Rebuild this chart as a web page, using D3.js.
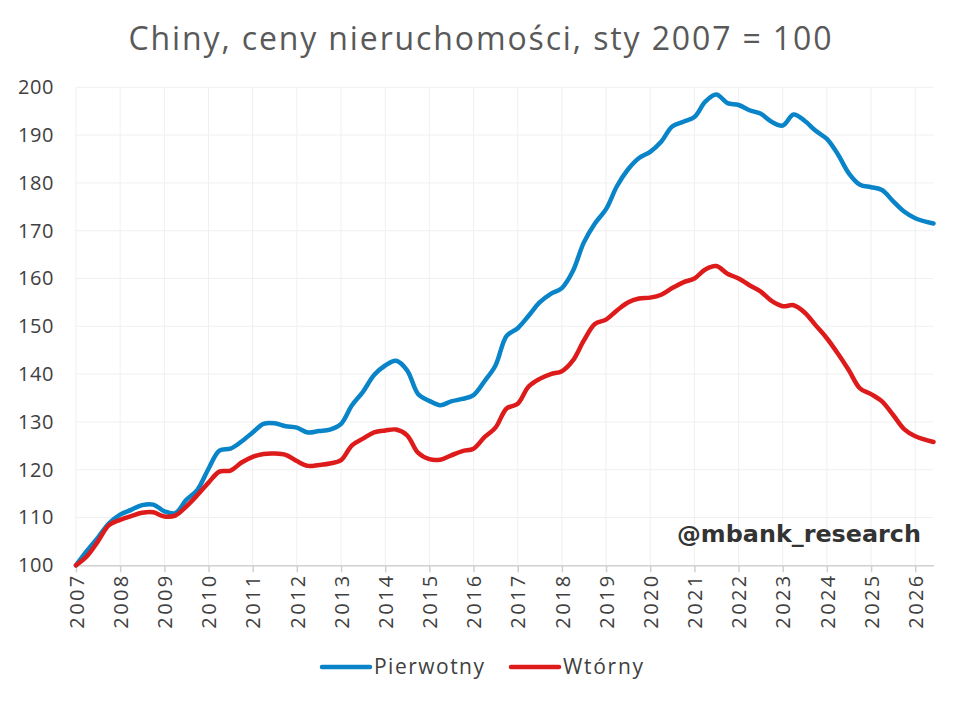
<!DOCTYPE html>
<html>
<head>
<meta charset="utf-8">
<script src="https://cdn.jsdelivr.net/npm/d3@7"></script>
<style>
  body { margin: 0; background: #fff; }
  text { font-family: "Open Sans", sans-serif; }
</style>
</head>
<body>
<svg id="chart" width="960" height="702"></svg>
<script>

// months (quarterly readings, last point = latest month)
var months = [
  "2007-01","2007-04","2007-07","2007-10","2008-01","2008-04","2008-07","2008-10",
  "2009-01","2009-04","2009-07","2009-10","2010-01","2010-04","2010-07","2010-10",
  "2011-01","2011-04","2011-07","2011-10","2012-01","2012-04","2012-07","2012-10",
  "2013-01","2013-04","2013-07","2013-10","2014-01","2014-04","2014-07","2014-10",
  "2015-01","2015-04","2015-07","2015-10","2016-01","2016-04","2016-07","2016-10",
  "2017-01","2017-04","2017-07","2017-10","2018-01","2018-04","2018-07","2018-10",
  "2019-01","2019-04","2019-07","2019-10","2020-01","2020-04","2020-07","2020-10",
  "2021-01","2021-04","2021-07","2021-10","2022-01","2022-04","2022-07","2022-10",
  "2023-01","2023-04","2023-07","2023-10","2024-01","2024-04","2024-07","2024-10",
  "2025-01","2025-04","2025-07","2025-10","2026-01","2026-06"
];

var pierwotny = [
  100.0, 103.0, 105.8, 108.8, 110.6, 111.6, 112.6, 112.7,
  111.3, 110.9, 113.7, 115.8, 120.2, 124.0, 124.4, 125.9,
  127.8, 129.6, 129.7, 129.1, 128.8, 127.8, 128.1, 128.4,
  129.6, 133.5, 136.3, 139.8, 141.8, 142.8, 140.8, 135.8,
  134.4, 133.5, 134.3, 134.8, 135.6, 138.5, 141.8, 148.0,
  149.6, 152.2, 155.0, 156.8, 158.0, 161.5, 167.5, 171.5,
  174.5, 179.3, 182.8, 185.2, 186.5, 188.6, 191.8, 192.8,
  193.8, 197.0, 198.5, 196.7, 196.3, 195.2, 194.5, 192.8,
  192.0, 194.3, 193.0, 190.9, 189.2, 186.0, 182.0, 179.6,
  179.1, 178.5, 176.2, 174.0, 172.6, 171.5
];

var wtorny = [
  100.0, 101.9, 105.0, 108.4, 109.5, 110.3, 111.0, 111.1,
  110.2, 110.4, 112.3, 114.7, 117.3, 119.6, 119.8, 121.5,
  122.7, 123.3, 123.4, 123.1, 121.8, 120.8, 121.0, 121.3,
  122.0, 125.1, 126.5, 127.8, 128.2, 128.4, 127.2, 123.5,
  122.2, 122.1, 123.0, 123.9, 124.4, 126.8, 128.8, 132.8,
  133.8, 137.4, 139.0, 140.0, 140.6, 142.8, 147.0, 150.5,
  151.4, 153.3, 155.0, 155.8, 156.0, 156.6, 158.0, 159.2,
  160.0, 161.9, 162.6, 161.0, 160.0, 158.6, 157.3, 155.3,
  154.2, 154.4, 152.9, 150.2, 147.5, 144.3, 140.8, 137.0,
  135.8, 134.3, 131.5, 128.5, 127.0, 125.8
];

var yTicks = [100, 110, 120, 130, 140, 150, 160, 170, 180, 190, 200];
var xYears = [2007, 2008, 2009, 2010, 2011, 2012, 2013, 2014, 2015, 2016,
              2017, 2018, 2019, 2020, 2021, 2022, 2023, 2024, 2025, 2026];

var seriesNames = ["Pierwotny", "Wtórny"];
var seriesColors = ["#0a84c8", "#dd1b1b"];

var title = "Chiny, ceny nieruchomości, sty 2007 = 100";

var svg = d3.select("#chart");
var parseMonth = d3.timeParse("%Y-%m");

var plot = {left: 76, right: 933.5, top: 87.3, bottom: 565.3};

var x = d3.scaleTime()
    .domain([parseMonth("2007-01"), parseMonth("2026-06")])
    .range([plot.left, plot.right]);
var y = d3.scaleLinear().domain([100, 200]).range([plot.bottom, plot.top]);

// Grid
svg.append("g").selectAll("line")
    .data(yTicks.slice(1))
    .enter().append("line")
    .attr("x1", plot.left).attr("x2", plot.right)
    .attr("y1", function(d) { return y(d); })
    .attr("y2", function(d) { return y(d); })
    .attr("stroke", "#f0f0f0").attr("stroke-width", 1);

svg.append("g").selectAll("line")
    .data(xYears)
    .enter().append("line")
    .attr("x1", function(d) { return x(new Date(d, 0, 1)); })
    .attr("x2", function(d) { return x(new Date(d, 0, 1)); })
    .attr("y1", plot.top).attr("y2", plot.bottom)
    .attr("stroke", "#f0f0f0").attr("stroke-width", 1);

// Y axis labels
var yAxis = d3.axisLeft(y).tickValues(yTicks).tickSize(0).tickPadding(22);
var gy = svg.append("g").attr("transform", "translate(" + plot.left + ",0)").call(yAxis);
gy.select(".domain").remove();
gy.selectAll("text")
    .style("font-family", "'Open Sans', sans-serif")
    .style("font-size", "20px")
    .style("letter-spacing", "0.6px")
    .attr("fill", "#404040");

// X axis
var xAxis = d3.axisBottom(x)
    .tickValues(xYears.map(function(d) { return new Date(d, 0, 1); }))
    .tickFormat(d3.timeFormat("%Y"))
    .tickSize(7).tickSizeOuter(0);
var gx = svg.append("g").attr("transform", "translate(0," + plot.bottom + ")").call(xAxis);
gx.select(".domain").attr("stroke", "#d0d0d0").attr("stroke-width", 1.5);
gx.selectAll(".tick line").attr("stroke", "#d0d0d0").attr("stroke-width", 1.5);
gx.selectAll("text")
    .style("font-family", "'Open Sans', sans-serif")
    .style("font-size", "20px")
    .style("letter-spacing", "2.4px")
    .attr("fill", "#404040")
    .attr("text-anchor", "end")
    .attr("transform", "rotate(-90)")
    .attr("x", -8).attr("y", 0).attr("dy", "0.36em");

// Lines
var line = d3.line()
    .x(function(d) { return x(d[0]); })
    .y(function(d) { return y(d[1]); })
    .curve(d3.curveCatmullRom.alpha(0.5));

[pierwotny, wtorny].forEach(function(vals, i) {
  var pts = months.map(function(m, k) { return [parseMonth(m), vals[k]]; });
  svg.append("path")
      .datum(pts)
      .attr("d", line)
      .attr("fill", "none")
      .attr("stroke", seriesColors[i])
      .attr("stroke-width", 4.5)
      .attr("stroke-linejoin", "round")
      .attr("stroke-linecap", "round");
});

// Title
svg.append("text")
    .attr("x", 480).attr("y", 50)
    .attr("text-anchor", "middle")
    .attr("textLength", 703).attr("lengthAdjust", "spacing")
    .style("font-size", "32px")
    .attr("fill", "#595959")
    .text(title);

// Watermark
svg.append("text")
    .attr("x", 677).attr("y", 542)
    .attr("textLength", 244).attr("lengthAdjust", "spacingAndGlyphs")
    .style("font-family", "'DejaVu Sans', sans-serif")
    .style("font-weight", "bold")
    .style("font-size", "23px")
    .attr("fill", "#333")
    .text("@mbank_research");

// Legend
var legendX = [322, 511];
var legendW = [110, 80];
var lg = svg.append("g").selectAll("g")
    .data(seriesNames)
    .enter().append("g");
lg.append("line")
    .attr("x1", function(d, i) { return legendX[i]; })
    .attr("x2", function(d, i) { return legendX[i] + 48; })
    .attr("y1", 667).attr("y2", 667)
    .attr("stroke", function(d, i) { return seriesColors[i]; })
    .attr("stroke-width", 4.5)
    .attr("stroke-linecap", "round");
lg.append("text")
    .attr("x", function(d, i) { return legendX[i] + 52; })
    .attr("y", 674)
    .attr("textLength", function(d, i) { return legendW[i]; })
    .attr("lengthAdjust", "spacing")
    .style("font-size", "21px")
    .attr("fill", "#404040")
    .text(function(d) { return d; });

</script>
</body>
</html>
